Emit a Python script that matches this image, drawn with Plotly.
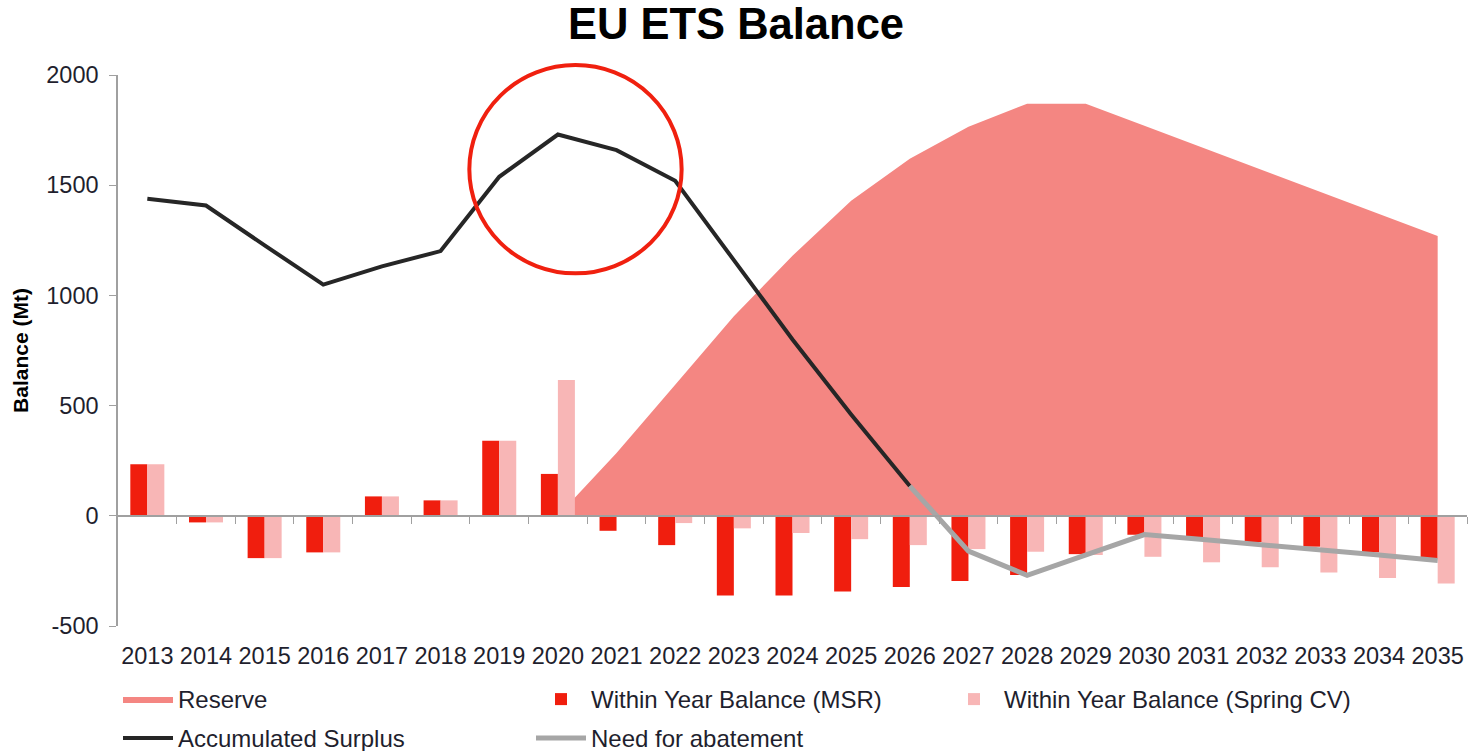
import plotly.graph_objects as go

years = list(range(2013, 2036))
msr = [234, -30, -192, -166, 88, 70, 340, 190, -68, -133, -362, -362, -343, -323,
       -296, -269, -174, -86, -98, -119, -140, -166, -192]
spring_cv = [234, -30, -192, -166, 88, 70, 340, 616, 0, -33, -57, -78, -106, -133,
             -151, -163, -178, -186, -211, -234, -257, -282, -307]
reserve_years = list(range(2020, 2036))
reserve = [0, 285, 595, 905, 1180, 1430, 1620, 1765, 1870, 1870, 1770, 1670, 1570,
           1470, 1370, 1270]
surplus_years = list(range(2013, 2027))
surplus = [1438, 1408, 1227, 1049, 1132, 1201, 1538, 1730, 1659, 1520, 1160, 800, 460, 135]
abatement_years = list(range(2026, 2036))
abatement = [135, -160, -270, -177, -85, -108, -130, -152, -178, -203]

C_RES = "#F48682"
C_MSR = "#F01E0E"
C_CV = "#F8B6B6"
C_BLACK = "#262626"
C_GREY = "#A6A6A6"
FONT = "Liberation Sans, Arial, sans-serif"
TXT = "#1F1F2E"

xr = [years[0] - 0.5, years[-1] + 0.5]
yr = [-500, 2000]
boundaries = [y + 0.5 for y in years]

fig = go.Figure()
fig.add_trace(go.Scatter(x=reserve_years, y=reserve, name="Reserve", mode="lines",
                         line=dict(width=0, color=C_RES), fill="tozeroy", fillcolor=C_RES,
                         xaxis="x", yaxis="y", legend="legend"))
fig.add_trace(go.Bar(x=years, y=msr, name="Within Year Balance (MSR)", marker_color=C_MSR,
                     marker_line_width=0, xaxis="x2", yaxis="y2", legend="legend"))
fig.add_trace(go.Bar(x=years, y=spring_cv, name="Within Year Balance (Spring CV)",
                     marker_color=C_CV, marker_line_width=0, xaxis="x2", yaxis="y2",
                     legend="legend"))
fig.add_trace(go.Scatter(x=surplus_years, y=surplus, name="Accumulated Surplus", mode="lines",
                         line=dict(width=4, color=C_BLACK), xaxis="x2", yaxis="y2",
                         legend="legend2"))
fig.add_trace(go.Scatter(x=abatement_years, y=abatement, name="Need for abatement", mode="lines",
                         line=dict(width=5, color=C_GREY), xaxis="x2", yaxis="y2",
                         legend="legend2"))

leg_common = dict(orientation="h", xanchor="left", yanchor="top", yref="container",
                  entrywidth=348, entrywidthmode="pixels", itemwidth=50,
                  font=dict(size=24, color=TXT, family=FONT), traceorder="normal",
                  itemclick=False, bgcolor="rgba(0,0,0,0)")

fig.update_layout(
    width=1472, height=751,
    margin=dict(l=118, r=5, t=75, b=125),
    paper_bgcolor="white", plot_bgcolor="white",
    font=dict(family=FONT, color=TXT, size=24),
    title=dict(text="<b>EU ETS Balance</b>", x=0.5, xanchor="center", y=0.989, yanchor="top",
               font=dict(size=43.5, color="#000000", family=FONT)),
    barmode="group", bargap=0.42, bargroupgap=0,
    showlegend=True,
    legend=dict(x=0.0, y=1 - 677 / 751, **leg_common),
    legend2=dict(x=0.0, y=1 - 716 / 751, **leg_common),
    xaxis=dict(range=xr, tickmode="array", tickvals=years, ticktext=[str(y) for y in years],
               showline=False, ticks="", showgrid=False, zeroline=False,
               ticklabelstandoff=13, tickfont=dict(size=23.5, color=TXT)),
    yaxis=dict(range=yr, tickmode="array", tickvals=[-500, 0, 500, 1000, 1500, 2000],
               ticktext=["-500", "0", "500", "1000", "1500", "2000"],
               showline=True, linecolor="#A0A0A0", linewidth=1.5, ticks="outside",
               ticklen=7, tickcolor="#A0A0A0", showgrid=False, zeroline=False,
               tickfont=dict(size=23.5, color=TXT), ticklabelstandoff=6,
               title=dict(text="<b>Balance (Mt)</b>", font=dict(size=21, color="#000000"),
                          standoff=12)),
    xaxis2=dict(range=xr, overlaying="x", anchor="free", position=(0 - yr[0]) / (yr[1] - yr[0]),
                showline=True, linecolor="#A0A0A0", linewidth=1.5, ticks="outside",
                ticklen=7, tickcolor="#A0A0A0", tickmode="array", tickvals=boundaries,
                showticklabels=False, showgrid=False, zeroline=False),
    yaxis2=dict(range=yr, overlaying="y", anchor="x", visible=False),
)

# highlight circle around the 2020 peak (annotation, in paper coordinates so it is not clipped)
def px(v):
    return (v - xr[0]) / (xr[1] - xr[0])

def py(v):
    return (v - yr[0]) / (yr[1] - yr[0])

fig.add_shape(type="circle", xref="paper", yref="paper",
              x0=px(2018.49), x1=px(2022.11), y0=py(1100), y1=py(2045),
              line=dict(color="#F0200F", width=4), fillcolor="rgba(0,0,0,0)")

fig.write_html("out.html")
